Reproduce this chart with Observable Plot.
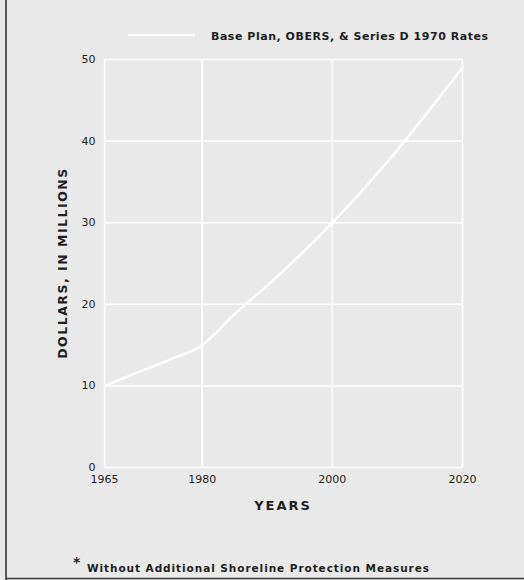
<!DOCTYPE html>
<html>
<head>
<meta charset="utf-8">
<script src="https://cdn.jsdelivr.net/npm/d3@7"></script>
<script src="https://cdn.jsdelivr.net/npm/@observablehq/plot@0.6"></script>
<style>
  html, body { margin: 0; padding: 0; background: #e9e9e9; }
  #chart { width: 524px; height: 580px; position: relative; overflow: hidden; }
</style>
</head>
<body>
<div id="chart"></div>
<script>
const years = [1965, 1970, 1975, 1980, 1985, 1990, 1995, 2000, 2005, 2010, 2015, 2020];
const dollars = [10, 11.6, 13.2, 15, 18.8, 22.3, 26, 30, 34.3, 38.9, 43.9, 49];
const xTicks = [1965, 1980, 2000, 2020];
const yTicks = [0, 10, 20, 30, 40, 50];
const seriesName = "Base Plan, OBERS, & Series D 1970 Rates";
const xLabel = "YEARS";
const yLabel = "DOLLARS, IN MILLIONS";
const footnote = "Without Additional Shoreline Protection Measures";

const data = years.map((y, i) => ({year: y, value: dollars[i]}));
const ink = "#1e1e1e";

const plot = Plot.plot({
  width: 524,
  height: 580,
  marginTop: 59,
  marginBottom: 113,
  marginLeft: 104,
  marginRight: 62,
  style: {background: "#e9e9e9", fontFamily: "DejaVu Sans, sans-serif", fontSize: "11px", color: ink},
  x: {domain: [1965, 2020], ticks: xTicks, tickFormat: d => String(d), tickSize: 0, tickPadding: 8,
      label: null},
  y: {domain: [0, 50], ticks: yTicks, tickSize: 0, tickPadding: 9, label: null},
  marks: [
    Plot.gridX(xTicks, {stroke: "#ffffff", strokeOpacity: 1, strokeWidth: 1.5}),
    Plot.gridY(yTicks, {stroke: "#ffffff", strokeOpacity: 1, strokeWidth: 1.5}),
    Plot.line(data, {x: "year", y: "value", stroke: "#ffffff", strokeWidth: 2.2, curve: "monotone-x"}),
    Plot.axisX({ticks: xTicks, tickFormat: d => String(d), tickSize: 0, tickPadding: 8, label: null, fill: ink}),
    Plot.axisY({ticks: yTicks, tickSize: 0, tickPadding: 9, label: null, fill: ink})
  ]
});
document.getElementById("chart").appendChild(plot);

const svg = d3.select(plot);
// axis titles
svg.append("text").attr("x", 283).attr("y", 510).attr("text-anchor", "middle")
  .attr("font-family", "DejaVu Sans, sans-serif").attr("font-weight", "bold").attr("font-size", 13)
  .attr("letter-spacing", 2).attr("fill", ink).text(xLabel);
svg.append("text").attr("transform", "translate(67,263) rotate(-90)").attr("text-anchor", "middle")
  .attr("font-family", "DejaVu Sans, sans-serif").attr("font-weight", "bold").attr("font-size", 12.5)
  .attr("letter-spacing", 1.5).attr("fill", ink).text(yLabel);
// legend
svg.append("line").attr("x1", 128).attr("x2", 195).attr("y1", 35).attr("y2", 35)
  .attr("stroke", "#ffffff").attr("stroke-width", 2.2);
svg.append("text").attr("x", 211).attr("y", 40).attr("text-anchor", "start").attr("font-family", "DejaVu Sans, sans-serif")
  .attr("font-weight", "bold").attr("font-size", 11).attr("textLength", 277).attr("lengthAdjust", "spacing")
  .attr("fill", ink).text(seriesName);
// footnote
svg.append("text").attr("x", 73).attr("y", 567).attr("text-anchor", "start").attr("font-family", "DejaVu Sans, sans-serif")
  .attr("font-weight", "bold").attr("font-size", 14).attr("fill", ink).text("*");
svg.append("text").attr("x", 87).attr("y", 572).attr("text-anchor", "start").attr("font-family", "DejaVu Sans, sans-serif")
  .attr("font-weight", "bold").attr("font-size", 10.5).attr("textLength", 342).attr("lengthAdjust", "spacing")
  .attr("fill", ink).text(footnote);
// scan border
svg.append("line").attr("x1", 6).attr("x2", 6).attr("y1", 0).attr("y2", 580)
  .attr("stroke", "#2a2a2a").attr("stroke-width", 1.5);
svg.append("line").attr("x1", 6).attr("x2", 524).attr("y1", 578.5).attr("y2", 578.5)
  .attr("stroke", "#3a3a3a").attr("stroke-width", 1.5);
</script>
</body>
</html>
